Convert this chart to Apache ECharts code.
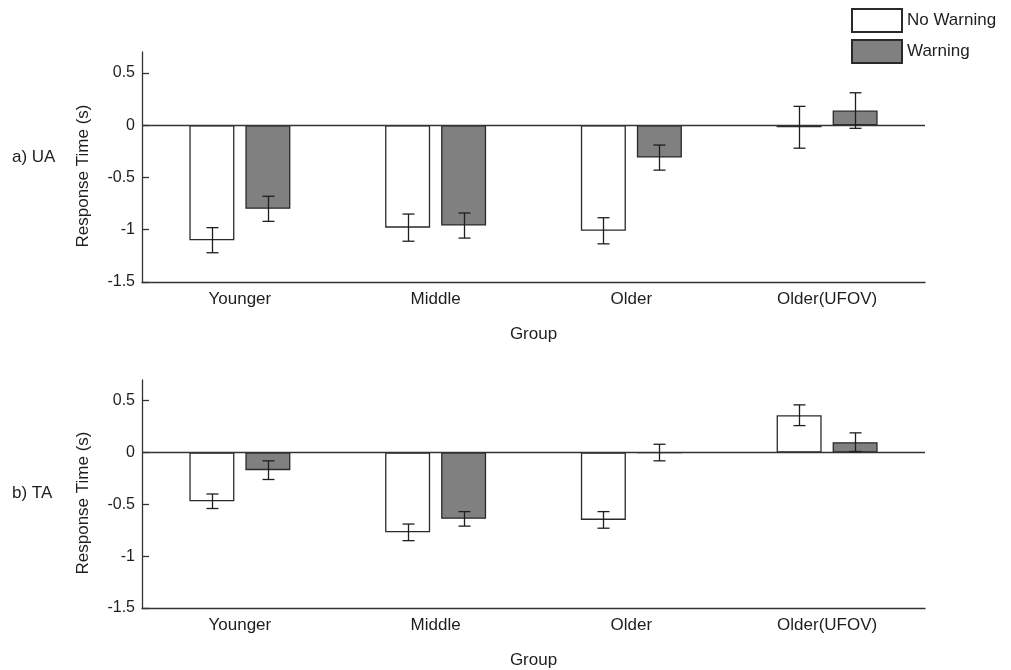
<!DOCTYPE html>
<html>
<head>
<meta charset="utf-8">
<title>Response Time by Group</title>
<script src="https://cdn.jsdelivr.net/npm/echarts@6/dist/echarts.min.js"></script>
<style>
  html, body { margin: 0; padding: 0; background: #ffffff; }
  #chart { width: 1011px; height: 670px; }
</style>
</head>
<body>
<div id="chart"></div>
<script>
// Groups along the x axis
const categories = ['Younger', 'Middle', 'Older', 'Older(UFOV)'];
const yTicks = [-1.5, -1, -0.5, 0, 0.5];

// a) UA: mean response time change (s) and error half-widths
const uaNoWarning = [-1.10, -0.98, -1.01, -0.02];
const uaNoWarningErr = [0.12, 0.13, 0.125, 0.20];
const uaWarning = [-0.80, -0.96, -0.31, 0.14];
const uaWarningErr = [0.12, 0.12, 0.12, 0.17];

// b) TA: mean response time change (s) and error half-widths
const taNoWarning = [-0.47, -0.77, -0.65, 0.36];
const taNoWarningErr = [0.07, 0.08, 0.08, 0.10];
const taWarning = [-0.17, -0.64, 0.0, 0.10];
const taWarningErr = [0.09, 0.07, 0.08, 0.09];

const FONT = '"Liberation Sans", Arial, sans-serif';
const INK = '#1e1e1e';
const BAR_W = 45;
const BAR_GAP = 11;
const SHIFT = (BAR_W + BAR_GAP) / 2;
const CAP = 6;

function errorSeries(name, means, errs, side, gridIdx) {
  return {
    type: 'custom',
    name: name,
    xAxisIndex: gridIdx,
    yAxisIndex: gridIdx,
    z: 5,
    silent: true,
    data: means.map((m, i) => [i, m - errs[i], m + errs[i]]),
    renderItem: function (params, api) {
      const lo = api.coord([api.value(0), api.value(1)]);
      const hi = api.coord([api.value(0), api.value(2)]);
      const x = Math.round(lo[0] + side * SHIFT) + 0.5;
      const style = { stroke: INK, lineWidth: 1.3 };
      return {
        type: 'group',
        children: [
          { type: 'line', shape: { x1: x, y1: lo[1], x2: x, y2: hi[1] }, style: style },
          { type: 'line', shape: { x1: x - CAP, y1: lo[1], x2: x + CAP, y2: lo[1] }, style: style },
          { type: 'line', shape: { x1: x - CAP, y1: hi[1], x2: x + CAP, y2: hi[1] }, style: style }
        ]
      };
    }
  };
}

function barSeries(name, values, fill, gridIdx, withZeroLine) {
  const s = {
    type: 'bar',
    name: name,
    xAxisIndex: gridIdx,
    yAxisIndex: gridIdx,
    data: values,
    barWidth: BAR_W,
    barGap: (BAR_GAP / BAR_W * 100) + '%',
    itemStyle: { color: fill, borderColor: '#2a2a2a', borderWidth: 1.3 },
    emphasis: { disabled: true }
  };
  if (withZeroLine) {
    s.markLine = {
      silent: true,
      symbol: 'none',
      label: { show: false },
      lineStyle: { color: '#333333', width: 1.3, type: 'solid' },
      data: [{ yAxis: 0 }]
    };
  }
  return s;
}

function xAxis(gridIdx) {
  return {
    type: 'category',
    gridIndex: gridIdx,
    data: categories,
    name: 'Group',
    nameLocation: 'middle',
    nameGap: 44,
    nameTextStyle: { fontFamily: FONT, fontSize: 17, color: INK },
    axisLine: { onZero: false, lineStyle: { color: '#333333', width: 1.3 } },
    axisTick: { inside: true, alignWithLabel: true, length: 8, lineStyle: { color: '#333333', width: 1.3 } },
    axisLabel: { margin: 9, fontFamily: FONT, fontSize: 17, color: INK },
    splitLine: { show: false }
  };
}

function yAxis(gridIdx) {
  return {
    type: 'value',
    gridIndex: gridIdx,
    min: -1.5,
    max: 0.7,
    interval: 0.5,
    name: 'Response Time (s)',
    nameLocation: 'middle',
    nameGap: 50,
    nameTextStyle: { fontFamily: FONT, fontSize: 17, color: INK, padding: [0, 18, 0, 0] },
    axisLine: { show: true, lineStyle: { color: '#333333', width: 1.3 } },
    axisTick: { show: true, inside: true, length: 7, customValues: yTicks, lineStyle: { color: '#333333', width: 1.3 } },
    axisLabel: { margin: 7, fontFamily: FONT, fontSize: 16, color: INK, customValues: yTicks },
    splitLine: { show: false }
  };
}

const chart = echarts.init(document.getElementById('chart'), null, { renderer: 'canvas' });
chart.setOption({
  backgroundColor: '#ffffff',
  animation: false,
  grid: [
    { left: 142, top: 52, width: 783, height: 230 },
    { left: 142, top: 380, width: 783, height: 229 }
  ],
  legend: {
    data: ['No Warning', 'Warning'],
    orient: 'vertical',
    left: 851,
    top: 8,
    padding: 0,
    itemWidth: 50,
    itemHeight: 23,
    itemGap: 6,
    icon: 'rect',
    textStyle: { fontFamily: FONT, fontSize: 17, color: INK },
    selectedMode: false
  },
  graphic: [
    { type: 'text', left: 12, top: 149, style: { text: 'a) UA', font: '17px ' + FONT, fill: INK } },
    { type: 'text', left: 12, top: 485, style: { text: 'b) TA', font: '17px ' + FONT, fill: INK } }
  ],
  xAxis: [xAxis(0), xAxis(1)],
  yAxis: [yAxis(0), yAxis(1)],
  series: [
    barSeries('No Warning', uaNoWarning, '#ffffff', 0, true),
    barSeries('Warning', uaWarning, '#808080', 0, false),
    errorSeries('ua-nw-err', uaNoWarning, uaNoWarningErr, -1, 0),
    errorSeries('ua-w-err', uaWarning, uaWarningErr, 1, 0),
    barSeries('No Warning', taNoWarning, '#ffffff', 1, true),
    barSeries('Warning', taWarning, '#808080', 1, false),
    errorSeries('ta-nw-err', taNoWarning, taNoWarningErr, -1, 1),
    errorSeries('ta-w-err', taWarning, taWarningErr, 1, 1)
  ]
});
</script>
</body>
</html>
